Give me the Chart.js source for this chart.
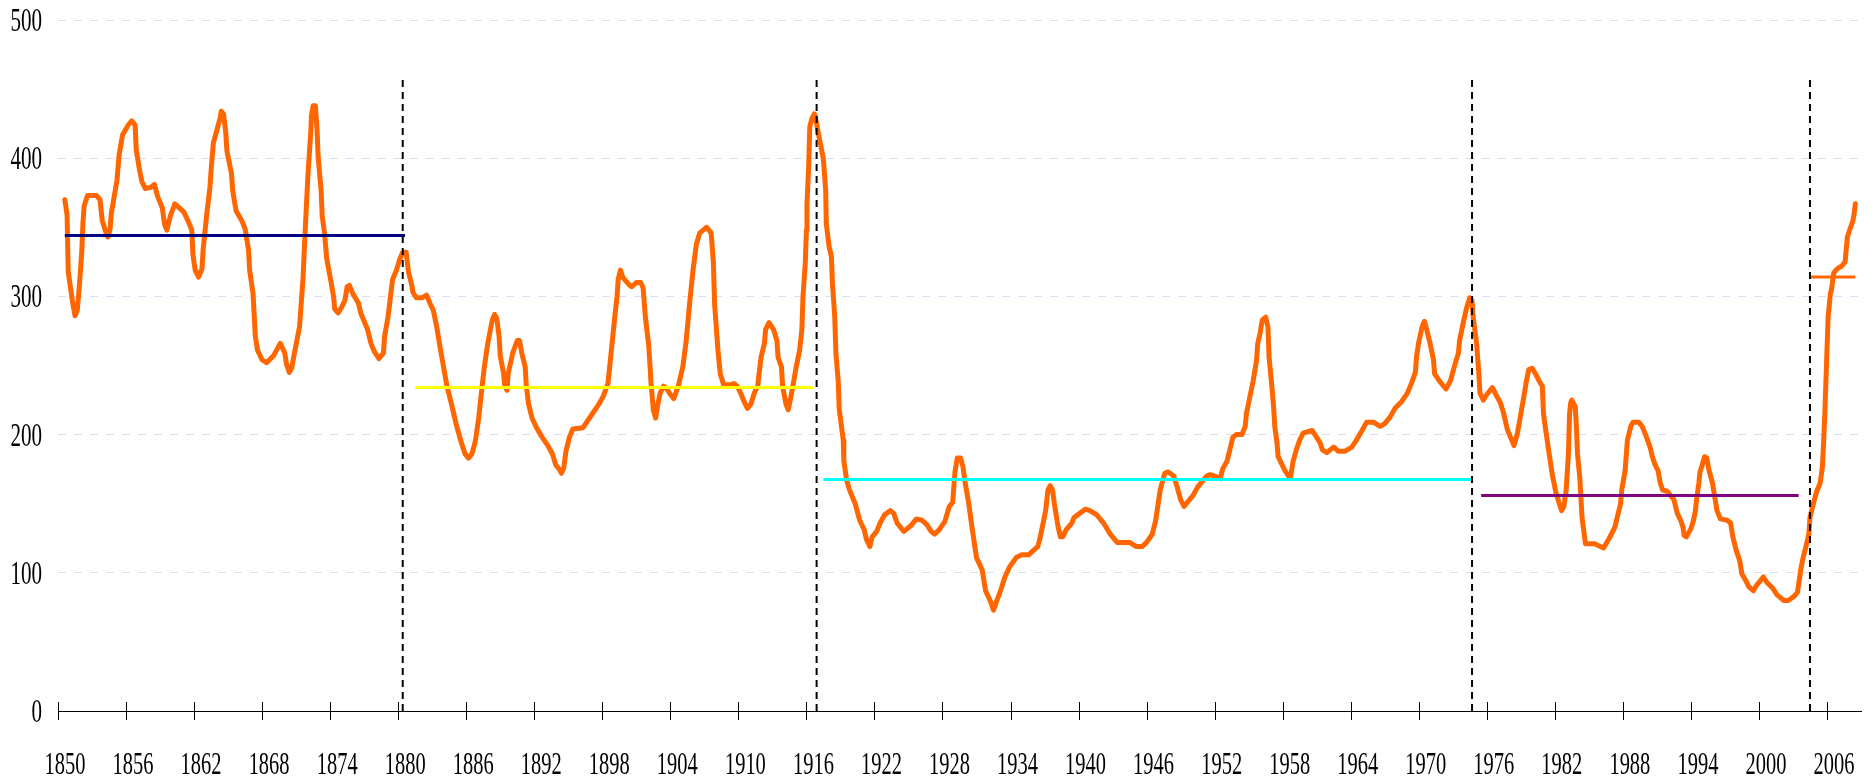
<!DOCTYPE html>
<html>
<head>
<meta charset="utf-8">
<script src="https://cdn.jsdelivr.net/npm/chart.js@4.4.1/dist/chart.umd.min.js"></script>
<style>
  html, body { margin: 0; padding: 0; background: #fff; }
  #wrap { width: 1873px; height: 783px; }
</style>
</head>
<body>
<div id="wrap"><canvas id="chart" width="1873" height="783"></canvas></div>
<script>
// Serie principal (años)
const years = [
  1850.6, 1850.8, 1850.9, 1851.3, 1851.5, 1851.7, 1851.9, 1852.1, 1852.2, 1852.3, 1852.6, 1853.4, 1853.7, 1853.9,
  1854.2, 1854.4, 1854.6, 1854.7, 1855.2, 1855.4, 1855.7, 1856.2, 1856.5, 1856.8, 1856.9, 1857.2, 1857.4, 1857.7,
  1858.2, 1858.5, 1858.8, 1859.2, 1859.4, 1859.6, 1859.9, 1860.3, 1860.7, 1861.1, 1861.5, 1861.8, 1861.9, 1862.1,
  1862.4, 1862.7, 1862.8, 1863.1, 1863.4, 1863.5, 1863.7, 1864.0, 1864.3, 1864.4, 1864.6, 1864.8, 1864.9, 1865.3,
  1865.4, 1865.7, 1866.2, 1866.5, 1866.8, 1866.9, 1867.2, 1867.4, 1867.6, 1868.0, 1868.4, 1869.0, 1869.6, 1870.0,
  1870.15, 1870.4, 1870.6, 1870.9, 1871.3, 1871.6, 1871.8, 1872.05, 1872.3, 1872.35, 1872.5, 1872.7, 1872.85, 1872.94,
  1873.2, 1873.3, 1873.5, 1873.7, 1874.0, 1874.3, 1874.4, 1874.7, 1875.0, 1875.3, 1875.5, 1875.7, 1876.0, 1876.5,
  1876.7, 1877.1, 1877.3, 1877.6, 1877.9, 1878.3, 1878.7, 1878.8, 1879.1, 1879.5, 1879.85, 1880.1, 1880.4, 1880.7,
  1880.9, 1881.2, 1881.3, 1881.6, 1882.1, 1882.5, 1882.8, 1883.1, 1883.4, 1883.7, 1884.0, 1884.3, 1884.7, 1885.1,
  1885.5, 1885.9, 1886.2, 1886.5, 1886.8, 1887.1, 1887.4, 1887.6, 1887.9, 1888.3, 1888.5, 1888.7, 1888.9, 1889.0,
  1889.3, 1889.4, 1889.6, 1889.7, 1890.1, 1890.5, 1890.7, 1890.9, 1891.2, 1891.3, 1891.5, 1891.8, 1892.2, 1892.7,
  1893.2, 1893.6, 1893.9, 1894.2, 1894.4, 1894.6, 1894.8, 1895.1, 1895.4, 1896.3, 1896.7, 1897.2, 1897.7, 1898.1,
  1898.5, 1898.8, 1899.1, 1899.3, 1899.4, 1899.6, 1899.8, 1900.3, 1900.6, 1901.0, 1901.4, 1901.6, 1901.8, 1902.1,
  1902.3, 1902.5, 1902.7, 1902.9, 1903.1, 1903.4, 1903.7, 1904.0, 1904.3, 1904.7, 1905.1, 1905.4, 1905.7, 1906.0,
  1906.3, 1906.6, 1907.2, 1907.6, 1907.8, 1907.9, 1908.2, 1908.4, 1908.7, 1909.3, 1909.6, 1909.9, 1910.2, 1910.5,
  1910.8, 1911.1, 1911.4, 1911.7, 1912.0, 1912.3, 1912.4, 1912.7, 1913.1, 1913.4, 1913.5, 1913.8, 1913.9, 1914.2,
  1914.4, 1914.6, 1914.8, 1915.1, 1915.4, 1915.6, 1915.7, 1915.9, 1916.0, 1916.05, 1916.2, 1916.3, 1916.5, 1916.7,
  1916.8, 1917.0, 1917.3, 1917.5, 1917.7, 1917.75, 1918.0, 1918.2, 1918.3, 1918.5, 1918.6,
  1918.8, 1918.9, 1919.25, 1919.3, 1919.55, 1919.8, 1920.3, 1920.7, 1921.1, 1921.3, 1921.6, 1921.8, 1922.2, 1922.5,
  1922.9, 1923.4, 1923.7, 1924.0, 1924.6, 1925.2, 1925.7, 1926.2, 1926.6, 1927.0, 1927.3, 1927.7, 1928.2, 1928.6,
  1928.9, 1929.1, 1929.3, 1929.6, 1929.8, 1930.0, 1930.3, 1930.6, 1931.0, 1931.5, 1931.8, 1932.2, 1932.5, 1932.8,
  1933.2, 1933.5, 1933.9, 1934.5, 1935.0, 1935.6, 1936.0, 1936.4, 1936.6, 1936.8, 1937.1,
  1937.3, 1937.5, 1937.7, 1937.9, 1938.2, 1938.4, 1938.6, 1938.9, 1939.4, 1939.6, 1940.1, 1940.6, 1941.0, 1941.6,
  1942.2, 1942.8, 1943.4, 1944.5, 1945.1, 1945.6, 1946.0, 1946.5, 1946.8, 1947.2, 1947.6, 1947.9, 1948.4, 1948.7,
  1949.0, 1949.3, 1949.7, 1950.1, 1950.5, 1951.0, 1951.3, 1951.6, 1952.0, 1952.5, 1952.7, 1953.1, 1953.4, 1953.6,
  1953.9, 1954.4, 1954.7, 1954.8, 1955.1, 1955.4, 1955.7, 1955.8, 1956.0, 1956.2, 1956.5, 1956.7, 1956.8, 1957.0,
  1957.2, 1957.3, 1957.5, 1957.6, 1957.9, 1958.2, 1958.5, 1958.7, 1958.9, 1959.2, 1959.5, 1959.8, 1960.6, 1961.0,
  1961.3, 1961.5, 1961.9, 1962.5, 1962.9, 1963.5, 1964.1, 1964.5, 1965.0, 1965.4, 1966.0, 1966.6, 1967.0, 1967.5,
  1967.9, 1968.5, 1969.0, 1969.4, 1969.7, 1969.8, 1970.0, 1970.3, 1970.5, 1970.7, 1971.0, 1971.3, 1971.4, 1971.9,
  1972.4, 1972.8, 1973.2, 1973.5, 1973.6, 1973.9, 1974.2, 1974.5, 1974.7, 1974.8, 1975.1, 1975.3, 1975.4, 1975.7,
  1976.0, 1976.3, 1976.5, 1976.8, 1977.2, 1977.5, 1977.8, 1978.1, 1978.4, 1978.7, 1979.0, 1979.3, 1979.5, 1979.7,
  1980.0, 1980.3, 1980.6, 1980.9, 1981.0, 1981.2, 1981.5, 1981.8, 1982.1, 1982.4, 1982.6, 1982.8, 1983.0, 1983.2,
  1983.3, 1983.4, 1983.5, 1983.8, 1983.9, 1984.0, 1984.2, 1984.4, 1984.7, 1985.5, 1986.3, 1986.8, 1987.3, 1987.5,
  1987.8, 1987.9, 1988.2, 1988.4, 1988.7, 1988.9, 1989.4, 1989.7, 1990.0, 1990.4, 1990.6, 1990.8, 1991.1, 1991.3,
  1991.5, 1991.9, 1992.2, 1992.5, 1992.8, 1993.1, 1993.3, 1993.4, 1993.6, 1994.0, 1994.2, 1994.4, 1994.5, 1994.7,
  1994.8, 1995.0, 1995.2, 1995.4, 1995.6, 1995.9, 1996.1, 1996.3, 1996.6, 1997.2, 1997.5, 1997.7, 1998.0, 1998.3,
  1998.5, 1998.8, 1999.1, 1999.5, 1999.8, 2000.4, 2000.7, 2001.2, 2001.6, 2002.2, 2002.6, 2003.1, 2003.4, 2003.6,
  2003.7, 2003.9, 2004.2, 2004.4, 2004.5, 2004.8, 2005.1, 2005.4, 2005.6, 2005.7, 2005.8, 2005.9, 2006.0, 2006.1,
  2006.3, 2006.4, 2006.6, 2006.9, 2007.3, 2007.6, 2007.8, 2008.0, 2008.3, 2008.4, 2008.5
];
const values = [
  370, 359, 318, 295, 286, 290, 309, 333, 353, 365, 373, 373, 370, 355,
  347, 343, 349, 360, 384, 403, 417, 424, 427, 424, 406, 391, 383, 378,
  379, 381, 372, 364, 352, 348, 358, 367, 364, 361, 354, 348, 330, 319,
  314, 320, 334, 358, 379, 391, 411, 420, 429, 434, 432, 418, 405, 389,
  377, 362, 355, 349, 334, 319, 302, 271, 261, 254, 252, 257, 266, 259,
  251, 245, 248, 261, 278, 312, 348, 389, 420, 431, 438, 438, 420, 401,
  377, 358, 346, 327, 314, 300, 291, 288, 292, 297, 307, 308, 302, 295,
  288, 280, 276, 266, 260, 255, 259, 271, 285, 312, 319, 326, 332, 332,
  318, 308, 303, 299, 299, 301, 295, 290, 278, 263, 249, 235, 222, 208,
  196, 186, 183, 186, 195, 212, 235, 249, 266, 283, 287, 284, 271, 257,
  244, 235, 232, 244, 259, 268, 268, 259, 249, 235, 222, 212, 205, 198,
  192, 186, 178, 175, 172, 176, 188, 198, 204, 205, 210, 216, 222, 228,
  237, 261, 285, 300, 312, 319, 314, 309, 307, 310, 310, 306, 285, 264,
  237, 218, 212, 222, 230, 235, 233, 229, 226, 235, 249, 268, 295, 319,
  338, 346, 350, 346, 324, 295, 261, 244, 236, 236, 237, 235, 230, 224,
  219, 222, 230, 235, 256, 266, 276, 281, 276, 268, 256, 249, 235, 222,
  218, 226, 235, 249, 261, 276, 300, 324, 348, 367, 394, 423, 429, 432,
  430, 420, 408, 399, 377, 353, 336, 329, 309, 285, 259,
  239, 218, 196, 181, 167, 160, 150, 138, 131, 124, 119, 126, 130, 136,
  142, 145, 143, 136, 130, 134, 139, 138, 135, 130, 128, 131, 137, 148,
  151, 173, 183, 183, 177, 165, 151, 133, 111, 102, 87, 80, 73, 80,
  89, 97, 104, 111, 113, 113, 116, 119, 125, 133, 145,
  160, 163, 160, 148, 133, 126, 126, 131, 136, 140, 143, 146, 145, 142,
  136, 128, 122, 122, 119, 119, 122, 128, 138, 160, 172, 173, 170, 162,
  153, 148, 152, 156, 162, 167, 170, 171, 170, 168, 175, 181, 191, 198,
  200, 200, 206, 215, 227, 239, 254, 266, 273, 283, 285, 278, 256, 239,
  220, 206, 194, 184, 179, 174, 170, 169, 180, 189, 196, 201, 203, 198,
  194, 189, 187, 191, 188, 188, 191, 196, 203, 209, 209, 206, 208, 213,
  219, 224, 230, 238, 245, 256, 267, 278, 282, 276, 266, 254, 244, 238,
  233, 239, 251, 259, 268, 280, 291, 299, 297, 285, 266, 244, 230, 225,
  229, 232, 234, 229, 223, 215, 204, 198, 192, 201, 215, 229, 239, 247,
  248, 244, 239, 235, 215, 203, 186, 170, 158, 150, 145, 148, 160, 186,
  215, 223, 225, 220, 206, 186, 169, 140, 121, 121, 118, 125, 133, 140,
  150, 160, 174, 196, 206, 209, 209, 206, 200, 191, 184, 179, 174, 165,
  160, 159, 156, 153, 143, 138, 133, 127, 126, 132, 137, 145, 153, 165,
  173, 178, 184, 183, 174, 165, 155, 145, 139, 138, 136, 126, 116, 109,
  99, 95, 90, 87, 91, 97, 93, 89, 84, 80, 80, 83, 86, 97,
  103, 111, 121, 128, 140, 150, 159, 165, 177, 194, 213, 237, 261, 285,
  302, 305, 317, 320, 322, 325, 343, 348, 355, 360, 367
];

// Medias por periodo
const periodStart = [1850.6, 1881.5, 1917.5, 1975.5, 2004.5];
const periodEnd = [1880.6, 1916.6, 1974.7, 2003.5, 2008.5];
const periodMean = [344, 234, 167.5, 156, 314];
const periodColors = ['#000080', '#ffff00', '#00ffff', '#800080', '#ff6600'];

// Cortes verticales
const breakYears = [1880.4, 1916.9, 1974.7, 2004.5];
const breakTop = 460;

// Ejes
const xTickYears = [];
for (let yr = 1850; yr <= 2006; yr += 6) xTickYears.push(yr);
const yTickValues = [0, 100, 200, 300, 400, 500];

const serie = years.map((yr, i) => ({ x: yr, y: values[i] }));

const datasets = [];
breakYears.forEach(yr => {
    datasets.push({
        data: [{ x: yr, y: 0 }, { x: yr, y: breakTop }],
        borderColor: '#000',
        borderWidth: 2,
        borderDash: [7, 5],
        pointRadius: 0,
        order: 0
    });
});
periodStart.forEach((start, i) => {
    datasets.push({
        data: [{ x: start, y: periodMean[i] }, { x: periodEnd[i], y: periodMean[i] }],
        borderColor: periodColors[i],
        borderWidth: 3,
        pointRadius: 0,
        order: 1
    });
});
datasets.push({
    data: serie,
    borderColor: '#ff6600',
    borderWidth: 5,
    pointRadius: 0,
    tension: 0,
    borderJoinStyle: 'round',
    borderCapStyle: 'round',
    order: 2
});

// Etiquetas estrechas (fuente condensada)
const axisText = {
    id: 'axisText',
    afterDraw(chart) {
        const { ctx, scales: { x, y } } = chart;
        ctx.save();
        ctx.strokeStyle = '#000';
        ctx.fillStyle = '#000';
        ctx.lineWidth = 1;
        x.ticks.forEach(t => {
            const px = Math.round(x.getPixelForValue(t.value)) + 0.5;
            ctx.beginPath();
            ctx.moveTo(px, y.bottom - 9);
            ctx.lineTo(px, y.bottom + 9);
            ctx.stroke();
        });
        ctx.font = '32px "Liberation Serif"';
        ctx.textBaseline = 'middle';
        ctx.textAlign = 'center';
        x.ticks.forEach(t => {
            ctx.save();
            ctx.translate(x.getPixelForValue(t.value) + 7, 766);
            ctx.scale(0.64, 1);
            ctx.fillText(String(t.value), 0, 0);
            ctx.restore();
        });
        ctx.font = '34px "Liberation Serif"';
        ctx.textAlign = 'right';
        y.ticks.forEach(t => {
            ctx.save();
            ctx.translate(42, y.getPixelForValue(t.value) + 2);
            ctx.scale(0.62, 1);
            ctx.fillText(String(t.value), 0, 0);
            ctx.restore();
        });
        ctx.restore();
    }
};

new Chart(document.getElementById('chart'), {
    type: 'line',
    data: { datasets: datasets },
    options: {
        responsive: false,
        animation: false,
        devicePixelRatio: 1,
        layout: { padding: { left: 58, right: 12, top: 20, bottom: 72 } },
        plugins: { legend: { display: false }, tooltip: { enabled: false } },
        scales: {
            x: {
                type: 'linear',
                min: 1850,
                max: 2009,
                afterBuildTicks: scale => { scale.ticks = xTickYears.map(v => ({ value: v })); },
                ticks: { display: false },
                grid: { display: false, drawTicks: false },
                border: { display: true, color: '#000', width: 1 }
            },
            y: {
                min: 0,
                max: 500,
                afterBuildTicks: scale => { scale.ticks = yTickValues.map(v => ({ value: v })); },
                ticks: { display: false },
                grid: {
                    drawTicks: false,
                    color: ctx => ctx.tick && ctx.tick.value === 0 ? 'rgba(0,0,0,0)' : '#dcdcf8',
                    lineWidth: 1
                },
                border: { display: false, dash: [8, 8] }
            }
        }
    },
    plugins: [axisText]
});
</script>
</body>
</html>
